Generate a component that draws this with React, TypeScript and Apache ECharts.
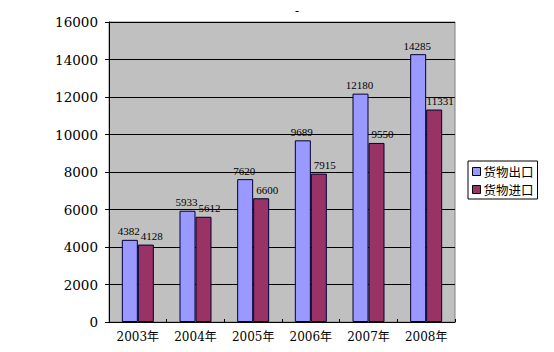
import React, { useEffect, useRef } from "react";
import * as echarts from "echarts";

const categories = ["2003年", "2004年", "2005年", "2006年", "2007年", "2008年"];
const exportsData = [4382, 5933, 7620, 9689, 12180, 14285];
const importsData = [4128, 5612, 6600, 7915, 9550, 11331];
const seriesNames = ["货物出口", "货物进口"];

const FONT = "'DejaVu Serif', 'Noto Sans CJK SC', serif";

export default function App() {
  const ref = useRef<HTMLDivElement>(null);
  useEffect(() => {
    const chart = echarts.init(ref.current!, undefined, { renderer: "svg" });
    const label = {
      show: true,
      position: "top" as const,
      distance: 3,
      color: "#000",
      fontSize: 11,
      fontFamily: "'Liberation Serif', serif",
    };
    chart.setOption({
      animation: false,
      backgroundColor: "#fff",
      title: {
        text: "-",
        left: 292,
        top: 0,
        textAlign: "center",
        textStyle: { fontSize: 12, fontWeight: "normal", color: "#000", fontFamily: FONT },
      },
      legend: {
        orient: "vertical",
        left: 468,
        top: 161,
        itemWidth: 8,
        itemHeight: 8,
        itemGap: 5,
        padding: [4, 4, 3, 4],
        borderColor: "#000",
        borderWidth: 1,
        icon: "rect",
        itemStyle: { borderColor: "#000", borderWidth: 1 },
        textStyle: {
          fontSize: 12.5,
          lineHeight: 13,
          height: 13,
          color: "#000",
          fontFamily: "'Noto Sans CJK SC', sans-serif",
          padding: [0, 0, 0, -2],
        },
        data: seriesNames,
      },
      grid: {
        left: 109,
        right: 99,
        top: 22,
        bottom: 30,
        show: true,
        backgroundColor: "#c0c0c0",
        borderColor: "#808080",
        borderWidth: 1,
      },
      xAxis: {
        type: "category",
        data: categories,
        axisLine: { lineStyle: { color: "#000" } },
        axisTick: { show: true, inside: true, length: 3, lineStyle: { color: "#000" } },
        axisLabel: { color: "#000", fontSize: 12, fontFamily: FONT, margin: 9, interval: 0 },
      },
      yAxis: {
        type: "value",
        min: 0,
        max: 16000,
        interval: 2000,
        axisLine: { show: true, lineStyle: { color: "#000" } },
        axisTick: { show: true, length: 4, lineStyle: { color: "#000" } },
        axisLabel: {
          color: "#000",
          fontSize: 13.5,
          fontFamily: FONT,
          margin: 11,
          formatter: (v: number) => String(v),
        },
        splitLine: { lineStyle: { color: "#000", width: 1 } },
      },
      series: [
        {
          name: seriesNames[0],
          type: "bar",
          data: exportsData,
          barWidth: 16,
          barGap: "0%",
          itemStyle: { color: "#9999ff", borderColor: "#000033", borderWidth: 1 },
          label: { ...label, offset: [-1, 0] },
        },
        {
          name: seriesNames[1],
          type: "bar",
          data: importsData,
          barWidth: 16,
          itemStyle: { color: "#993366", borderColor: "#000033", borderWidth: 1 },
          label: { ...label, offset: [6, 0] },
        },
      ],
    });
    return () => chart.dispose();
  }, []);
  return <div ref={ref} style={{ width: 554, height: 352, position: "absolute", left: 0, top: 0 }} />;
}
